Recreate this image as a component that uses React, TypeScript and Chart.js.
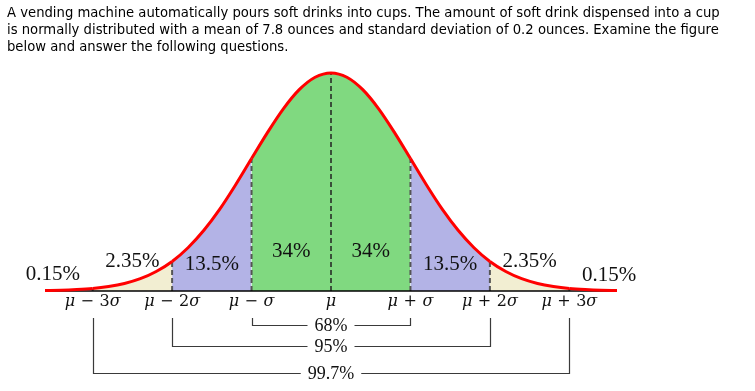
import { useEffect, useRef } from 'react';
import { Chart, registerables } from 'chart.js';

Chart.register(...registerables);

// Positions along the axis, in standard deviations from the mean
const sigmaSteps = [
  -3.6, -3.4, -3.2, -3.0, -2.8, -2.6, -2.4, -2.2, -2.0, -1.8, -1.6, -1.4, -1.2, -1.0, -0.8, -0.6, -0.4, -0.2,
  0,
  0.2, 0.4, 0.6, 0.8, 1.0, 1.2, 1.4, 1.6, 1.8, 2.0, 2.2, 2.4, 2.6, 2.8, 3.0, 3.2, 3.4, 3.6,
];
// Curve height relative to the peak
const curveHeights = [
  0.002, 0.003, 0.006, 0.011, 0.02, 0.034, 0.056, 0.089, 0.135, 0.198, 0.278, 0.375, 0.487, 0.607, 0.726, 0.835, 0.923, 0.98,
  1.0,
  0.98, 0.923, 0.835, 0.726, 0.607, 0.487, 0.375, 0.278, 0.198, 0.135, 0.089, 0.056, 0.034, 0.02, 0.011, 0.006, 0.003, 0.002,
];

const tickValues = [-3, -2, -1, 0, 1, 2, 3];
const tickLabels = ['μ − 3σ', 'μ − 2σ', 'μ − σ', 'μ', 'μ + σ', 'μ + 2σ', 'μ + 3σ'];

const regionLabels = ['0.15%', '2.35%', '13.5%', '34%', '34%', '13.5%', '2.35%', '0.15%'];
const regionCenters = [-3.5, -2.5, -1.5, -0.5, 0.5, 1.5, 2.5, 3.5];

const bracketLabels = ['68%', '95%', '99.7%'];
const bracketSpans = [1, 2, 3];

const dashedAt = [-3, -2, -1, 0, 1, 2, 3];

const TITLE_LINES = [
  'A vending machine automatically pours soft drinks into cups. The amount of soft drink dispensed into a cup',
  'is normally distributed with a mean of 7.8 ounces and standard deviation of 0.2 ounces. Examine the figure',
  'below and answer the following questions.',
];

const GREEN = '#80d980';
const LAVENDER = '#b3b3e6';
const BEIGE = '#f2eed2';

function regionColor(mid: number): string {
  const a = Math.abs(mid);
  if (a < 1) return GREEN;
  if (a < 2) return LAVENDER;
  if (a < 3) return BEIGE;
  return 'rgba(0,0,0,0)';
}

const labelRise = [16, 29, 26, 39, 39, 26, 29, 15];
const bracketDrop = [34, 55, 82];

const overlayPlugin = {
  id: 'overlay',
  afterDatasetsDraw(chart: any) {
    const { ctx, scales } = chart;
    const xs = scales.x;
    const ys = scales.y;
    const base = ys.getPixelForValue(0);
    ctx.save();
    ctx.fillStyle = '#111';
    ctx.textBaseline = 'middle';
    ctx.textAlign = 'center';

    // region percentages
    ctx.font = '21px "Liberation Serif"';
    regionLabels.forEach((t, i) => {
      ctx.fillText(t, xs.getPixelForValue(regionCenters[i]), base - labelRise[i]);
    });

    // tick labels with italic Greek letters
    const italic = 'italic 16px "DejaVu Serif"';
    const upright = '16px "DejaVu Serif"';
    const gap = 5.5;
    ctx.textAlign = 'left';
    tickLabels.forEach((lbl, i) => {
      const chars = Array.from(lbl);
      const widths = chars.map((c) => {
        if (c === ' ') return gap;
        ctx.font = c === 'μ' || c === 'σ' ? italic : upright;
        return ctx.measureText(c).width;
      });
      const total = widths.reduce((s, w) => s + w, 0);
      let cx = xs.getPixelForValue(tickValues[i]) - total / 2;
      chars.forEach((c, j) => {
        if (c !== ' ') {
          ctx.font = c === 'μ' || c === 'σ' ? italic : upright;
          ctx.fillText(c, cx, base + 11);
        }
        cx += widths[j];
      });
    });

    // brackets
    ctx.font = '18px "Liberation Serif"';
    ctx.textAlign = 'center';
    ctx.strokeStyle = '#3a3a3a';
    ctx.lineWidth = 1.2;
    const center = xs.getPixelForValue(0);
    bracketLabels.forEach((t, i) => {
      const s = bracketSpans[i];
      const xl = Math.round(xs.getPixelForValue(-s)) + 0.5;
      const xr = Math.round(xs.getPixelForValue(s)) + 0.5;
      const yTop = base + 27;
      const yLine = Math.round(base + bracketDrop[i]) + 0.5;
      const w = ctx.measureText(t).width;
      const pad = 7;
      ctx.beginPath();
      ctx.moveTo(xl, yTop);
      ctx.lineTo(xl, yLine);
      ctx.lineTo(center - w / 2 - pad, yLine);
      ctx.moveTo(center + w / 2 + pad, yLine);
      ctx.lineTo(xr, yLine);
      ctx.lineTo(xr, yTop);
      ctx.stroke();
      ctx.fillText(t, center, yLine + 1);
    });
    ctx.restore();
  },
};

export default function App() {
  const canvasRef = useRef<HTMLCanvasElement | null>(null);

  useEffect(() => {
    const canvas = canvasRef.current;
    if (!canvas) return;
    const curve = sigmaSteps.map((x, i) => ({ x, y: curveHeights[i] }));
    const dashedSets = dashedAt.map((v) => {
      const h = curveHeights[sigmaSteps.indexOf(v)];
      return {
        type: 'line' as const,
        data: [
          { x: v, y: 0 },
          { x: v, y: h },
        ],
        borderColor: v === 0 ? '#222' : '#555',
        borderWidth: v === 0 ? 1.5 : 2,
        borderDash: [5, 3],
        pointRadius: 0,
        fill: false,
        order: 2,
      };
    });
    const chart = new Chart(canvas, {
      type: 'line',
      data: {
        datasets: [
          {
            data: curve,
            borderColor: '#ff0000',
            borderWidth: 3,
            pointRadius: 0,
            cubicInterpolationMode: 'monotone',
            fill: 'origin',
            backgroundColor: GREEN,
            segment: {
              backgroundColor: (c: any) => regionColor((c.p0.parsed.x + c.p1.parsed.x) / 2),
            },
            order: 0,
          } as any,
          {
            data: [
              { x: sigmaSteps[0], y: 0 },
              { x: sigmaSteps[sigmaSteps.length - 1], y: 0 },
            ],
            borderColor: '#000',
            borderWidth: 1.5,
            pointRadius: 0,
            fill: false,
            order: 1,
          },
          ...dashedSets,
        ],
      },
      options: {
        responsive: false,
        animation: false,
        events: [],
        layout: { padding: { left: 45, right: 138, top: 62, bottom: 2 } },
        scales: {
          x: { type: 'linear', min: -3.6, max: 3.6, display: false },
          y: { type: 'linear', min: -0.45, max: 1.05, display: false },
        },
        plugins: {
          legend: { display: false },
          tooltip: { enabled: false },
          filler: { drawTime: 'beforeDatasetsDraw' },
        } as any,
      },
      plugins: [overlayPlugin],
    });
    return () => chart.destroy();
  }, []);

  return (
    <div style={{ position: 'absolute', left: 0, top: 0, width: 755, height: 391, background: '#fff' }}>
      <canvas ref={canvasRef} width={755} height={391} style={{ position: 'absolute', left: 0, top: 0 }} />
      <div
        style={{
          position: 'absolute',
          left: 7,
          top: 4,
          font: '13.2px "DejaVu Sans"',
          lineHeight: '17px',
          color: '#000',
          whiteSpace: 'nowrap',
          zIndex: 1,
        }}
      >
        {TITLE_LINES.map((l, i) => (
          <div key={i}>{l}</div>
        ))}
      </div>
    </div>
  );
}
